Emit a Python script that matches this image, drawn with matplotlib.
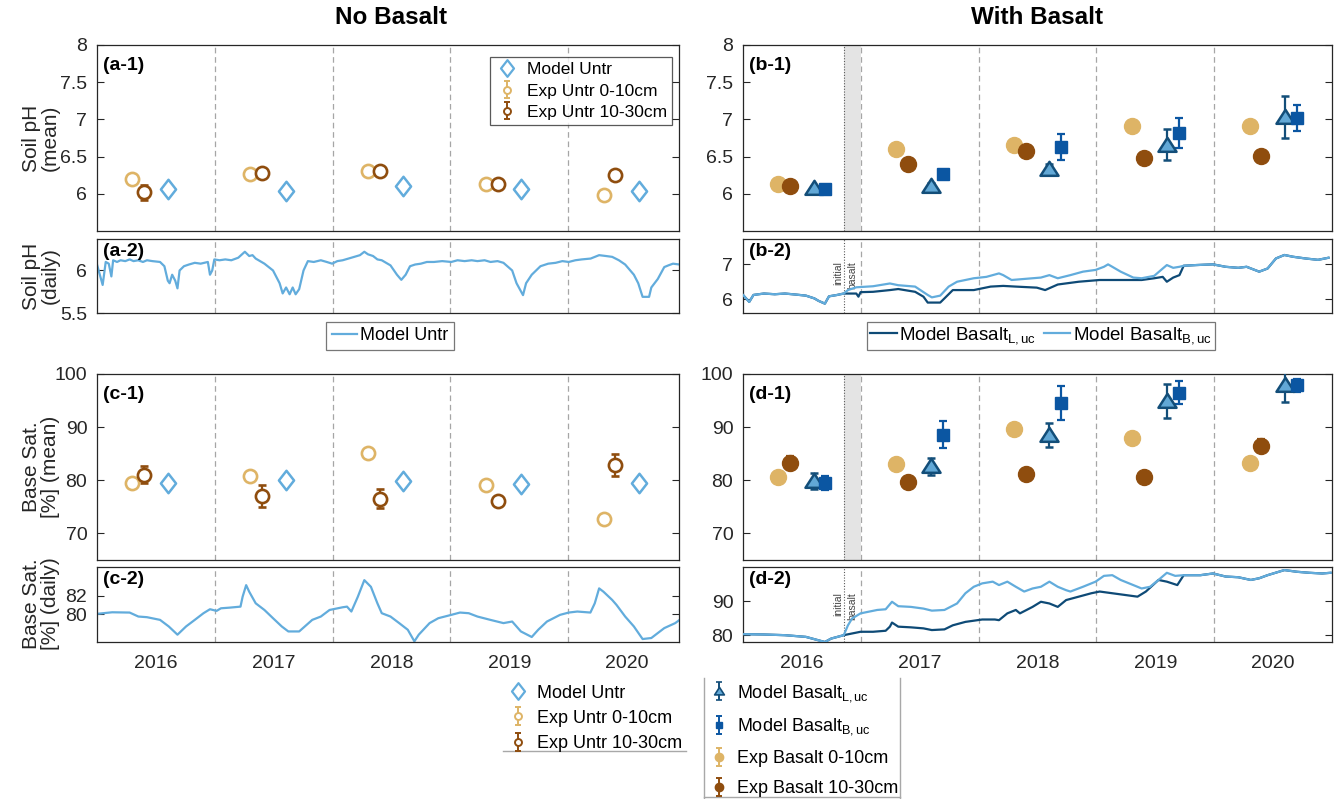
import numpy as np
import matplotlib
matplotlib.use("Agg")
import matplotlib.pyplot as plt
from matplotlib.lines import Line2D
from matplotlib.path import Path
from matplotlib.ticker import FormatStrFormatter
from matplotlib.transforms import blended_transform_factory

plt.rcParams['font.family'] = ['Liberation Sans', 'DejaVu Sans']
plt.rcParams['mathtext.fontset'] = 'custom'
plt.rcParams['mathtext.rm'] = 'Liberation Sans'
plt.rcParams['mathtext.it'] = 'Liberation Sans:italic'
plt.rcParams['mathtext.bf'] = 'Liberation Sans:bold'

# ---------------- data ----------------
years = [2016, 2017, 2018, 2019, 2020]
year_labels = ['2016', '2017', '2018', '2019', '2020']
basalt_date = 2016.855

# Soil pH, annual means
ph_exp_untr_top = [6.20, 6.27, 6.30, 6.13, 5.98]
ph_exp_untr_top_err = [0.03, 0.03, 0.03, 0.02, 0.03]
ph_exp_untr_sub = [6.02, 6.28, 6.31, 6.13, 6.25]
ph_exp_untr_sub_err = [0.10, 0.04, 0.04, 0.03, 0.03]
ph_model_untr = [6.06, 6.04, 6.10, 6.07, 6.04]

ph_exp_bas_top = [6.13, 6.60, 6.66, 6.91, 6.91]
ph_exp_bas_top_err = [0.02, 0.02, 0.02, 0.02, 0.02]
ph_exp_bas_sub = [6.10, 6.40, 6.57, 6.48, 6.51]
ph_exp_bas_sub_err = [0.02, 0.02, 0.02, 0.02, 0.02]
ph_model_L = [6.08, 6.11, 6.34, 6.66, 7.03]
ph_model_L_err = [0.03, 0.03, 0.06, 0.21, 0.28]
ph_model_B = [6.06, 6.27, 6.63, 6.82, 7.02]
ph_model_B_err = [0.02, 0.04, 0.18, 0.20, 0.17]

# Base saturation, annual means
bs_exp_untr_top = [79.5, 80.8, 85.1, 79.1, 72.8]
bs_exp_untr_top_err = [0.5, 0.5, 1.0, 0.5, 0.4]
bs_exp_untr_sub = [81.0, 77.1, 76.5, 76.1, 82.9]
bs_exp_untr_sub_err = [1.6, 2.1, 1.8, 0.5, 2.0]
bs_model_untr = [79.5, 80.0, 79.9, 79.3, 79.5]

bs_exp_bas_top = [80.7, 83.1, 89.6, 87.9, 83.3]
bs_exp_bas_top_err = [0.4, 0.4, 1.0, 0.4, 0.4]
bs_exp_bas_sub = [83.3, 79.6, 81.1, 80.6, 86.5]
bs_exp_bas_sub_err = [1.3, 0.4, 0.4, 0.4, 1.2]
bs_model_L = [79.8, 82.6, 88.5, 94.9, 98.0]
bs_model_L_err = [1.5, 1.6, 2.2, 3.2, 3.2]
bs_model_B = [79.5, 88.6, 94.6, 96.5, 97.9]
bs_model_B_err = [1.3, 2.5, 3.2, 2.1, 1.2]

# Daily soil pH, untreated (decimal year, pH)
ph_untr_daily = [
    (2016.000, 6.07), (2016.048, 5.83), (2016.074, 6.10), (2016.100, 6.08), (2016.122, 5.93),
    (2016.137, 6.12), (2016.170, 6.10), (2016.200, 6.12), (2016.240, 6.11), (2016.277, 6.13),
    (2016.310, 6.11), (2016.350, 6.12), (2016.390, 6.10), (2016.424, 6.12), (2016.470, 6.11),
    (2016.535, 6.10), (2016.572, 6.05), (2016.601, 5.88), (2016.616, 5.85), (2016.638, 5.95),
    (2016.664, 5.88), (2016.683, 5.79), (2016.701, 6.00), (2016.738, 6.05), (2016.780, 6.07),
    (2016.830, 6.09), (2016.880, 6.08), (2016.941, 6.10), (2016.959, 5.95), (2016.978, 6.00),
    (2016.996, 6.13), (2017.040, 6.12), (2017.089, 6.13), (2017.140, 6.12), (2017.199, 6.15),
    (2017.255, 6.22), (2017.292, 6.17), (2017.320, 6.18), (2017.347, 6.14), (2017.421, 6.08),
    (2017.494, 6.00), (2017.550, 5.85), (2017.576, 5.73), (2017.605, 5.80), (2017.635, 5.72),
    (2017.661, 5.80), (2017.686, 5.72), (2017.716, 5.78), (2017.753, 6.00), (2017.790, 6.11),
    (2017.840, 6.10), (2017.900, 6.12), (2017.950, 6.10), (2017.996, 6.08), (2018.040, 6.11),
    (2018.085, 6.12), (2018.159, 6.15), (2018.232, 6.18), (2018.269, 6.22), (2018.300, 6.19),
    (2018.343, 6.17), (2018.380, 6.13), (2018.417, 6.12), (2018.491, 6.06), (2018.546, 5.95),
    (2018.583, 5.89), (2018.620, 5.95), (2018.657, 6.05), (2018.700, 6.07), (2018.749, 6.08),
    (2018.800, 6.10), (2018.860, 6.10), (2018.930, 6.11), (2019.007, 6.10), (2019.060, 6.12),
    (2019.120, 6.11), (2019.180, 6.12), (2019.229, 6.11), (2019.290, 6.12), (2019.340, 6.10),
    (2019.400, 6.11), (2019.450, 6.09), (2019.524, 6.00), (2019.561, 5.85), (2019.616, 5.71),
    (2019.642, 5.85), (2019.690, 5.95), (2019.764, 6.05), (2019.830, 6.08), (2019.893, 6.09),
    (2019.950, 6.11), (2020.004, 6.10), (2020.060, 6.12), (2020.114, 6.13), (2020.190, 6.14),
    (2020.262, 6.18), (2020.320, 6.17), (2020.373, 6.16), (2020.430, 6.12), (2020.483, 6.07),
    (2020.557, 5.95), (2020.594, 5.85), (2020.631, 5.69), (2020.686, 5.69), (2020.705, 5.80),
    (2020.760, 5.90), (2020.815, 6.04), (2020.850, 6.06), (2020.889, 6.08), (2020.945, 6.07),
]

# Daily soil pH with basalt: common start, L,uc / B,uc branches, common end
ph_bas_pre = [
    (2016.000, 6.12), (2016.053, 5.92), (2016.089, 6.12), (2016.178, 6.16), (2016.270, 6.14),
    (2016.356, 6.16), (2016.450, 6.13), (2016.534, 6.10), (2016.606, 6.02), (2016.641, 5.95),
    (2016.695, 5.87), (2016.730, 6.08), (2016.800, 6.12), (2016.855, 6.16),
]
ph_bas_B_mid = [
    (2016.891, 6.26), (2016.962, 6.34), (2017.104, 6.37), (2017.247, 6.45), (2017.318, 6.40),
    (2017.461, 6.36), (2017.568, 6.12), (2017.603, 6.05), (2017.674, 6.10), (2017.746, 6.36),
    (2017.817, 6.50), (2017.959, 6.60), (2018.066, 6.64), (2018.173, 6.74), (2018.209, 6.69),
    (2018.280, 6.55), (2018.387, 6.58), (2018.529, 6.62), (2018.601, 6.69), (2018.672, 6.60),
    (2018.779, 6.69), (2018.886, 6.79), (2018.993, 6.84), (2019.064, 6.93), (2019.099, 7.00),
    (2019.135, 6.93), (2019.206, 6.79), (2019.313, 6.62), (2019.384, 6.60), (2019.491, 6.67),
    (2019.563, 6.88), (2019.598, 6.98), (2019.652, 6.90), (2019.705, 6.93),
]
ph_bas_L_mid = [
    (2016.962, 6.16), (2016.980, 6.07), (2016.998, 6.20), (2017.104, 6.21), (2017.247, 6.26),
    (2017.318, 6.29), (2017.461, 6.21), (2017.532, 6.07), (2017.568, 5.90), (2017.674, 5.90),
    (2017.710, 6.02), (2017.781, 6.26), (2017.959, 6.26), (2018.102, 6.36), (2018.209, 6.38),
    (2018.316, 6.36), (2018.494, 6.33), (2018.565, 6.26), (2018.672, 6.42), (2018.850, 6.50),
    (2019.028, 6.55), (2019.206, 6.55), (2019.384, 6.55), (2019.491, 6.60), (2019.563, 6.64),
    (2019.598, 6.50), (2019.652, 6.62), (2019.705, 6.69),
]
ph_bas_post = [
    (2019.741, 6.96), (2019.848, 6.98), (2019.990, 7.00), (2020.097, 6.93), (2020.204, 6.90),
    (2020.275, 6.93), (2020.382, 6.79), (2020.453, 6.88), (2020.524, 7.17), (2020.596, 7.27),
    (2020.667, 7.22), (2020.774, 7.17), (2020.881, 7.13), (2020.970, 7.19),
]

# Daily base saturation, untreated (decimal year, %)
bs_untr_daily = [
    (2016.000, 80.04), (2016.129, 80.21), (2016.277, 80.18), (2016.351, 79.75), (2016.424, 79.68),
    (2016.535, 79.39), (2016.609, 78.68), (2016.683, 77.79), (2016.756, 78.68), (2016.830, 79.39),
    (2016.904, 80.11), (2016.959, 80.54), (2017.015, 80.36), (2017.052, 80.64), (2017.125, 80.71),
    (2017.218, 80.82), (2017.236, 81.89), (2017.266, 83.14), (2017.292, 82.43), (2017.347, 81.18),
    (2017.421, 80.46), (2017.494, 79.57), (2017.568, 78.68), (2017.624, 78.14), (2017.716, 78.14),
    (2017.827, 79.39), (2017.900, 79.75), (2017.974, 80.46), (2018.085, 80.75), (2018.122, 80.82),
    (2018.159, 80.29), (2018.214, 81.89), (2018.269, 83.68), (2018.325, 82.96), (2018.380, 81.18),
    (2018.417, 80.11), (2018.491, 79.75), (2018.565, 79.04), (2018.638, 78.32), (2018.694, 77.07),
    (2018.731, 77.79), (2018.823, 79.04), (2018.897, 79.57), (2019.007, 79.93), (2019.081, 80.18),
    (2019.155, 80.11), (2019.229, 79.75), (2019.339, 79.39), (2019.450, 79.04), (2019.524, 79.21),
    (2019.598, 78.14), (2019.690, 77.54), (2019.745, 78.32), (2019.819, 79.21), (2019.930, 79.93),
    (2020.004, 80.18), (2020.077, 80.29), (2020.188, 80.18), (2020.225, 81.18), (2020.262, 82.79),
    (2020.299, 82.43), (2020.373, 81.54), (2020.410, 81.00), (2020.483, 79.75), (2020.557, 78.68),
    (2020.631, 77.32), (2020.705, 77.43), (2020.815, 78.50), (2020.908, 79.04), (2020.945, 79.39),
]

# Daily base saturation with basalt
bs_bas_pre = [
    (2016.000, 80.3), (2016.178, 80.2), (2016.356, 80.0), (2016.534, 79.5), (2016.641, 78.5),
    (2016.695, 78.0), (2016.748, 79.0), (2016.855, 80.0),
]
bs_bas_B_mid = [
    (2016.891, 82.9), (2016.926, 84.9), (2016.998, 86.4), (2017.140, 87.4), (2017.211, 87.6),
    (2017.265, 89.8), (2017.318, 88.5), (2017.425, 88.3), (2017.532, 87.8), (2017.603, 87.2),
    (2017.710, 87.4), (2017.817, 89.3), (2017.888, 92.3), (2017.959, 94.2), (2018.031, 95.2),
    (2018.120, 95.7), (2018.173, 94.7), (2018.244, 95.7), (2018.316, 94.2), (2018.387, 92.8),
    (2018.458, 93.7), (2018.529, 94.2), (2018.601, 95.7), (2018.672, 94.2), (2018.743, 93.2),
    (2018.779, 92.8), (2018.886, 94.2), (2018.993, 95.7), (2019.064, 97.4), (2019.135, 97.6),
    (2019.206, 96.2), (2019.313, 94.7), (2019.384, 93.7), (2019.456, 94.2), (2019.527, 96.2),
    (2019.598, 98.3), (2019.669, 97.4),
]
bs_bas_L_mid = [
    (2016.926, 80.5), (2016.998, 81.0), (2017.104, 81.0), (2017.211, 81.3), (2017.247, 82.5),
    (2017.265, 83.7), (2017.318, 82.5), (2017.425, 82.3), (2017.532, 82.0), (2017.603, 81.5),
    (2017.710, 81.7), (2017.781, 82.9), (2017.888, 83.9), (2018.031, 84.6), (2018.138, 84.6),
    (2018.173, 84.4), (2018.244, 86.4), (2018.316, 87.4), (2018.351, 86.4), (2018.458, 88.3),
    (2018.529, 89.8), (2018.601, 89.3), (2018.672, 88.3), (2018.743, 90.3), (2018.850, 91.3),
    (2018.957, 92.3), (2019.028, 92.8), (2019.135, 92.3), (2019.242, 91.8), (2019.349, 91.3),
    (2019.420, 92.8), (2019.527, 96.2), (2019.598, 95.7), (2019.687, 94.7),
]
bs_bas_post = [
    (2019.741, 97.6), (2019.883, 97.6), (2019.990, 98.1), (2020.097, 97.2), (2020.204, 97.0),
    (2020.311, 96.2), (2020.382, 96.7), (2020.453, 97.6), (2020.596, 99.1), (2020.703, 98.6),
    (2020.809, 98.3), (2020.916, 98.1), (2020.988, 98.3),
]

# ---------------- style ----------------
C_MODEL = '#62ACDC'
C_TOP = '#DEB466'
C_SUB = '#8F4D0E'
C_L_EDGE = '#134E79'
C_L_FACE = '#62A8D6'
C_B = '#0B56A2'
C_L_LINE = '#0E4A76'
C_AX = '#262626'

DIAMOND = Path([(0, 1), (0.78, 0), (0, -1), (-0.78, 0), (0, 1)], closed=True)
TRIANGLE = Path([(-1, -0.7), (1, -0.7), (0, 0.85), (-1, -0.7)], closed=True)

W, H = 1338, 799
fig = plt.figure(figsize=(W / 100, H / 100), dpi=100)


def add_axes(x0, x1, top, bot):
    return fig.add_axes([x0 / W, 1 - bot / H, (x1 - x0) / W, (bot - top) / H])


LX0, LX1 = 97, 679
RX0, RX1 = 743, 1332
ax_a1 = add_axes(LX0, LX1, 45, 231)
ax_a2 = add_axes(LX0, LX1, 239, 313)
ax_b1 = add_axes(RX0, RX1, 45, 231)
ax_b2 = add_axes(RX0, RX1, 239, 313)
ax_c1 = add_axes(LX0, LX1, 374, 560)
ax_c2 = add_axes(LX0, LX1, 567, 642)
ax_d1 = add_axes(RX0, RX1, 374, 560)
ax_d2 = add_axes(RX0, RX1, 567, 642)

right_axes = [ax_b1, ax_b2, ax_d1, ax_d2]


def style(ax, xlim, ylim, yticks, bottom_labels=False):
    ax.set_xlim(*xlim)
    ax.set_ylim(*ylim)
    ax.set_yticks(yticks)
    ax.yaxis.set_major_formatter(FormatStrFormatter('%g'))
    for s in ax.spines.values():
        s.set_color(C_AX)
        s.set_linewidth(0.9)
    ax.tick_params(axis='y', direction='in', right=True, length=5, width=0.8,
                   labelsize=14, colors=C_AX, pad=7)
    if bottom_labels:
        ax.set_xticks([y + 0.5 for y in years])
        ax.set_xticklabels(year_labels)
        ax.tick_params(axis='x', length=0, labelsize=14, colors=C_AX, pad=9)
    else:
        ax.set_xticks([])
    for y in years[1:]:
        ax.axvline(y, color='#A6A6A6', ls=(0, (4.5, 3)), lw=0.9, zorder=0)


style(ax_a1, (2016, 2020.94), (5.5, 8), [6, 6.5, 7, 7.5, 8])
style(ax_a2, (2016, 2020.94), (5.5, 6.37), [5.5, 6])
style(ax_c1, (2016, 2020.94), (65, 100), [70, 80, 90, 100])
style(ax_c2, (2016, 2020.94), (77.0, 85.1), [80, 82], bottom_labels=True)
style(ax_b1, (2016, 2021), (5.5, 8), [6, 6.5, 7, 7.5, 8])
style(ax_b2, (2016, 2021), (5.6, 7.73), [6, 7])
style(ax_d1, (2016, 2021), (65, 100), [70, 80, 90, 100])
style(ax_d2, (2016, 2021), (78, 100), [80, 90], bottom_labels=True)

# basalt application marker
for ax in [ax_b1, ax_d1]:
    ax.axvspan(basalt_date, 2017.0, color='#E4E4E4', lw=0, zorder=0)
for ax in right_axes:
    ax.axvline(basalt_date, color='#5A5A5A', ls=(0, (1, 1.5)), lw=0.8, zorder=1)
for ax, ytop in [(ax_b2, 0.70), (ax_d2, 0.66)]:
    tr = blended_transform_factory(ax.transData, ax.transAxes)
    ax.text(basalt_date - 0.008, ytop, 'initial', rotation=90, fontsize=7.5,
            color='#444444', ha='right', va='top', transform=tr)
    ax.text(basalt_date + 0.03, ytop, 'basalt', rotation=90, fontsize=7.5,
            color='#444444', ha='left', va='top', transform=tr)

x_top = [y + 0.30 for y in years]
x_sub = [y + 0.40 for y in years]
x_mod = [y + 0.60 for y in years]
x_modB = [y + 0.70 for y in years]

eb_kw = dict(ls='none', elinewidth=1.6, capsize=3.2, capthick=1.6, zorder=3)


def untr_panel(ax, top, top_err, sub, sub_err, model):
    ax.errorbar(x_top, top, yerr=top_err, marker='o', ms=9.5, mfc='white',
                mec=C_TOP, mew=1.9, ecolor=C_TOP, color=C_TOP, **eb_kw)
    ax.errorbar(x_sub, sub, yerr=sub_err, marker='o', ms=9.5, mfc='white',
                mec=C_SUB, mew=1.9, ecolor=C_SUB, color=C_SUB, **eb_kw)
    ax.plot(x_mod, model, ls='none', marker=DIAMOND, ms=14, mfc='none',
            mec=C_MODEL, mew=1.8, zorder=3)


def bas_panel(ax, top, top_err, sub, sub_err, mL, mL_err, mB, mB_err):
    ax.errorbar(x_top, top, yerr=top_err, marker='o', ms=11.5, mfc=C_TOP,
                mec=C_TOP, ecolor=C_TOP, color=C_TOP, **eb_kw)
    ax.errorbar(x_sub, sub, yerr=sub_err, marker='o', ms=11.5, mfc=C_SUB,
                mec=C_SUB, ecolor=C_SUB, color=C_SUB, **eb_kw)
    ax.errorbar(x_mod, mL, yerr=mL_err, marker=TRIANGLE, ms=13, mfc=C_L_FACE,
                mec=C_L_EDGE, mew=1.8, ecolor=C_L_EDGE, color=C_L_EDGE, **eb_kw)
    ax.errorbar(x_modB, mB, yerr=mB_err, marker='s', ms=8.5, mfc=C_B,
                mec=C_B, ecolor=C_B, color=C_B, **eb_kw)


untr_panel(ax_a1, ph_exp_untr_top, ph_exp_untr_top_err, ph_exp_untr_sub,
           ph_exp_untr_sub_err, ph_model_untr)
untr_panel(ax_c1, bs_exp_untr_top, bs_exp_untr_top_err, bs_exp_untr_sub,
           bs_exp_untr_sub_err, bs_model_untr)
bas_panel(ax_b1, ph_exp_bas_top, ph_exp_bas_top_err, ph_exp_bas_sub, ph_exp_bas_sub_err,
          ph_model_L, ph_model_L_err, ph_model_B, ph_model_B_err)
bas_panel(ax_d1, bs_exp_bas_top, bs_exp_bas_top_err, bs_exp_bas_sub, bs_exp_bas_sub_err,
          bs_model_L, bs_model_L_err, bs_model_B, bs_model_B_err)


def xy(pairs):
    a = np.array(pairs, dtype=float)
    return a[:, 0], a[:, 1]


# daily curves
h_untr_line, = ax_a2.plot(*xy(ph_untr_daily), color=C_MODEL, lw=1.6, zorder=2)
ax_c2.plot(*xy(bs_untr_daily), color=C_MODEL, lw=1.6, zorder=2)

hL_line, = ax_b2.plot(*xy(ph_bas_pre + ph_bas_L_mid + ph_bas_post), color=C_L_LINE, lw=1.6, zorder=2)
hB_line, = ax_b2.plot(*xy(ph_bas_pre + ph_bas_B_mid + ph_bas_post), color=C_MODEL, lw=1.6, zorder=3)
ax_d2.plot(*xy(bs_bas_pre + bs_bas_L_mid + bs_bas_post), color=C_L_LINE, lw=1.6, zorder=2)
ax_d2.plot(*xy(bs_bas_pre + bs_bas_B_mid + bs_bas_post), color=C_MODEL, lw=1.6, zorder=3)

# panel tags
for ax, tag, yy in [(ax_a1, '(a-1)', 0.935), (ax_b1, '(b-1)', 0.935),
                    (ax_c1, '(c-1)', 0.935), (ax_d1, '(d-1)', 0.935),
                    (ax_a2, '(a-2)', 0.95), (ax_b2, '(b-2)', 0.95),
                    (ax_c2, '(c-2)', 0.95), (ax_d2, '(d-2)', 0.95)]:
    ax.text(0.011, yy, tag, transform=ax.transAxes, fontsize=14, fontweight='bold',
            va='top', ha='left', color='black', zorder=5)

# column titles and y labels
fig.text(391 / W, 1 - 18 / H, 'No Basalt', fontsize=17.5, fontweight='bold',
         ha='center', va='center')
fig.text(1037 / W, 1 - 18 / H, 'With Basalt', fontsize=17.5, fontweight='bold',
         ha='center', va='center')
for text, yc in [('Soil pH\n(mean)', 138), ('Soil pH\n(daily)', 276),
                 ('Base Sat.\n[%] (mean)', 467), ('Base Sat.\n[%] (daily)', 604)]:
    fig.text(41 / W, 1 - yc / H, text, rotation=90, fontsize=15, ha='center',
             va='center', color=C_AX, linespacing=1.0)


# legend proxies (smaller markers, as drawn in legends)
def proxy_eb(ax, **kw):
    return ax.errorbar([np.nan], [np.nan], yerr=[np.nan], ls='none', elinewidth=1.4,
                       capsize=2.5, capthick=1.4, **kw)


p_mod = Line2D([], [], ls='none', marker=DIAMOND, ms=12, mfc='none', mec=C_MODEL, mew=1.6)
p_top_o = proxy_eb(ax_a1, marker='o', ms=5, mfc='white', mec=C_TOP, mew=1.4, ecolor=C_TOP, color=C_TOP)
p_sub_o = proxy_eb(ax_a1, marker='o', ms=5, mfc='white', mec=C_SUB, mew=1.4, ecolor=C_SUB, color=C_SUB)
p_L = proxy_eb(ax_b1, marker=TRIANGLE, ms=7, mfc=C_L_FACE, mec=C_L_EDGE, mew=1.2, ecolor=C_L_EDGE, color=C_L_EDGE)
p_B = proxy_eb(ax_b1, marker='s', ms=5, mfc=C_B, mec=C_B, ecolor=C_B, color=C_B)
p_top_f = proxy_eb(ax_b1, marker='o', ms=6, mfc=C_TOP, mec=C_TOP, ecolor=C_TOP, color=C_TOP)
p_sub_f = proxy_eb(ax_b1, marker='o', ms=6, mfc=C_SUB, mec=C_SUB, ecolor=C_SUB, color=C_SUB)

untr_labels = ['Model Untr', 'Exp Untr 0-10cm', 'Exp Untr 10-30cm']
bas_labels = ['Model Basalt$_{\\mathrm{L,uc}}$', 'Model Basalt$_{\\mathrm{B,uc}}$',
              'Exp Basalt 0-10cm', 'Exp Basalt 10-30cm']

leg = ax_a1.legend([p_mod, p_top_o, p_sub_o], untr_labels, loc='upper right',
                   bbox_to_anchor=(672 / W, 1 - 57 / H), bbox_transform=fig.transFigure,
                   borderaxespad=0, fontsize=12.5, frameon=True, fancybox=False,
                   handlelength=1.3, handletextpad=0.5, borderpad=0.3, labelspacing=0.35)
leg.get_frame().set_edgecolor('#303030')
leg.get_frame().set_linewidth(0.9)

leg2 = fig.legend([h_untr_line], ['Model Untr'], loc='center',
                  bbox_to_anchor=(390 / W, 1 - 336 / H), fontsize=13, frameon=True,
                  fancybox=False, handlelength=1.4, handletextpad=0.15, borderpad=0.3,
                  borderaxespad=0)
leg2.get_frame().set_edgecolor('#555555')
leg2.get_frame().set_linewidth(0.9)

leg3 = fig.legend([hL_line, hB_line], ['Model Basalt$_{\\mathrm{L,uc}}$', 'Model Basalt$_{\\mathrm{B,uc}}$'],
                  loc='center', ncol=2, bbox_to_anchor=(1041 / W, 1 - 336 / H), fontsize=13.5,
                  frameon=True, fancybox=False, handlelength=1.4, handletextpad=0.15,
                  borderpad=0.2, columnspacing=0.4, borderaxespad=0)
leg3.get_frame().set_edgecolor('#555555')
leg3.get_frame().set_linewidth(0.9)

fig.legend([p_mod, p_top_o, p_sub_o], untr_labels, loc='upper left',
           bbox_to_anchor=(504 / W, 1 - 681 / H), fontsize=13, frameon=False,
           handlelength=1.2, handletextpad=0.45, labelspacing=0.45, borderpad=0.2,
           borderaxespad=0)
fig.legend([p_L, p_B, p_top_f, p_sub_f], bas_labels, loc='upper left',
           bbox_to_anchor=(706 / W, 1 - 679 / H), fontsize=13, frameon=False,
           handlelength=1.0, handletextpad=0.5, labelspacing=0.72, borderpad=0.2,
           borderaxespad=0)

# partial legend box edges below the plots
for (x0, y0), (x1, y1) in [((503, 751), (686, 751)),
                           ((704, 678), (704, 798)),
                           ((900, 678), (900, 798)),
                           ((704, 797), (900, 797))]:
    fig.add_artist(Line2D([x0 / W, x1 / W], [1 - y0 / H, 1 - y1 / H],
                          transform=fig.transFigure, color='#A8A8A8', lw=1.0))

fig.savefig('out.png', dpi=100)
